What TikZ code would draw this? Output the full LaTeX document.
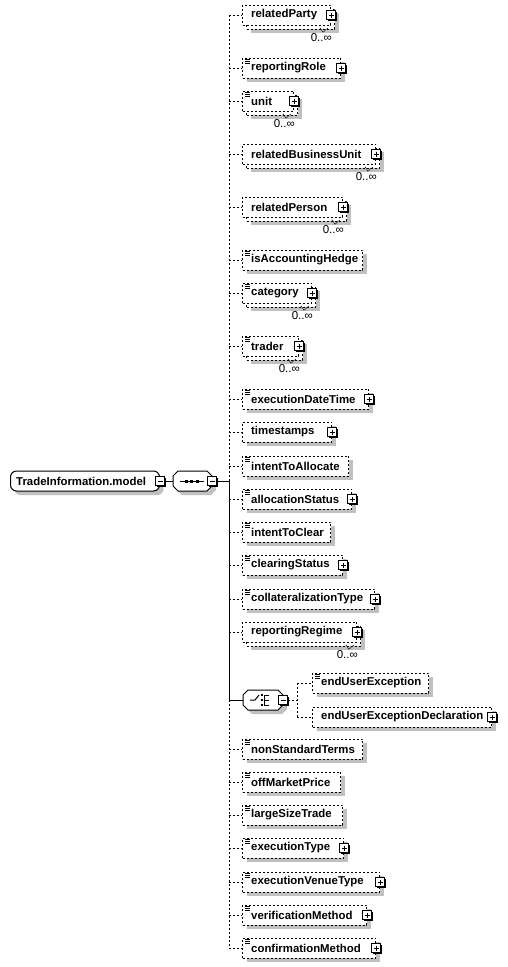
\documentclass[tikz,border=0pt]{standalone}
\usepackage{fontspec}
\setmainfont{Liberation Sans}
\usetikzlibrary{shadows}
\definecolor{shgray}{RGB}{192,192,192}
\tikzset{
  lnk/.style={line width=1pt, dash pattern=on 2pt off 2pt},
  lnks/.style={line width=1pt},
  elboxns/.style={draw, line width=1pt, dash pattern=on 2pt off 2pt, fill=white,
    minimum height=20pt, inner sep=0pt, anchor=west},
  elbox/.style={elboxns, drop shadow={shadow xshift=4pt, shadow yshift=-4pt, fill=shgray, opacity=1}},
  eltext/.style={font=\fontsize{11.4}{13}\selectfont\bfseries, inner sep=0pt, anchor=west},
  multlbl/.style={font=\fontsize{11.5}{13}\selectfont, inner sep=0pt, anchor=east},
  pmbox/.style={draw, line width=1pt, fill=white, minimum size=9pt, inner sep=0pt,
    drop shadow={shadow xshift=1pt, shadow yshift=-1pt, fill=black, opacity=1}},
  minusbox/.style={pmbox, path picture={
    \draw[line width=1pt] ([xshift=2pt]path picture bounding box.west) -- ([xshift=-2pt]path picture bounding box.east);}},
  plusbox/.style={pmbox, path picture={
    \draw[line width=1pt] ([xshift=2pt]path picture bounding box.west) -- ([xshift=-2pt]path picture bounding box.east);
    \draw[line width=1pt] ([yshift=-2pt]path picture bounding box.north) -- ([yshift=2pt]path picture bounding box.south);}},
}
% single element box: name, left, y, right, text
\newcommand\elemS[5]{%
  \node[elbox, minimum width={#4-#2}] (#1) at (#2,#3) {};
  \node[eltext] (#1-t) at (#2+9,#3) {#5};
}
% multiple occurrence element box
\newcommand\elemM[5]{%
  \node[elbox, minimum width={#4-#2}] (#1-b) at (#2+4,#3+4) {};
  \node[elboxns, minimum width={#4-#2}] (#1) at (#2,#3) {};
  \node[eltext] (#1-t) at (#2+9,#3) {#5};
  \node[multlbl] (#1-m) at (#4+2,#3+23) {0..∞};
  \draw[line width=.8pt, dash pattern=on 1pt off 1pt] (#4-10,#3+13) -- (#4-7,#3+17) -- (#4-2,#3+13);
}
\newcommand\elicon[1]{%
  \foreach \k in {1.5,3.5,5.5}{\draw[line width=.8pt] ([xshift=3pt,yshift=-\k pt]#1.north west) -- +(5,0);}}
\newcommand\elplus[1]{\node[plusbox] (#1-p) at (#1.east) {};}
% compositor octagon: name, x1, x2, y
\newcommand\octa[4]{%
  \node[inner sep=0pt, minimum width={#3-#2}, minimum height=20pt, anchor=west] (#1) at (#2,#4) {};
  \fill[shgray] (#2+9,#4-6) -- (#3-1,#4-6) -- (#3+4,#4-1) -- (#3+4,#4+9) -- (#3-1,#4+14) -- (#2+9,#4+14) -- (#2+4,#4+9) -- (#2+4,#4-1) -- cycle;
  \draw[line width=1pt, fill=white] (#2+5,#4-10) -- (#3-5,#4-10) -- (#3,#4-5) -- (#3,#4+5) -- (#3-5,#4+10) -- (#2+5,#4+10) -- (#2,#4+5) -- (#2,#4-5) -- cycle;
  \node[minusbox] (#1-m) at (#1.east) {};
}
\begin{document}
\begin{tikzpicture}[x=1pt,y=-1pt]
\useasboundingbox (0,0) rectangle (508,967);
\coordinate (vx) at (229,0);
\coordinate (cx) at (297,0);

% ---- children of the sequence ----
\elemM{relatedParty}{242}{15}{330}{relatedParty}\elplus{relatedParty}
\elemS{reportingRole}{242}{68}{340}{reportingRole}\elicon{reportingRole}\elplus{reportingRole}
\elemM{unit}{242}{101}{293}{unit}\elicon{unit}\elplus{unit}
\elemM{relatedBusinessUnit}{242}{154}{375}{relatedBusinessUnit}\elplus{relatedBusinessUnit}
\elemM{relatedPerson}{242}{207}{342}{relatedPerson}\elplus{relatedPerson}
\elemS{isAccountingHedge}{242}{260}{362}{isAccountingHedge}\elicon{isAccountingHedge}
\elemM{category}{242}{293}{311}{category}\elicon{category}\elplus{category}
\elemM{trader}{242}{346}{298}{trader}\elicon{trader}\elplus{trader}
\elemS{executionDateTime}{242}{399}{368}{executionDateTime}\elicon{executionDateTime}\elplus{executionDateTime}
\elemS{timestamps}{242}{432}{331}{timestamps}\elplus{timestamps}
\elemS{intentToAllocate}{242}{466}{348}{intentToAllocate}\elicon{intentToAllocate}
\elemS{allocationStatus}{242}{499}{351}{allocationStatus}\elicon{allocationStatus}\elplus{allocationStatus}
\elemS{intentToClear}{242}{532}{330}{intentToClear}\elicon{intentToClear}
\elemS{clearingStatus}{242}{565}{342}{clearingStatus}\elicon{clearingStatus}\elplus{clearingStatus}
\elemS{collateralizationType}{242}{599}{374}{collateralizationType}\elicon{collateralizationType}\elplus{collateralizationType}
\elemM{reportingRegime}{242}{632}{356}{reportingRegime}\elplus{reportingRegime}
\elemS{nonStandardTerms}{242}{749}{362}{nonStandardTerms}\elicon{nonStandardTerms}
\elemS{offMarketPrice}{242}{782}{340}{offMarketPrice}\elicon{offMarketPrice}
\elemS{largeSizeTrade}{242}{815}{342}{largeSizeTrade}\elicon{largeSizeTrade}
\elemS{executionType}{242}{848}{343}{executionType}\elicon{executionType}\elplus{executionType}
\elemS{executionVenueType}{242}{882}{379}{executionVenueType}\elicon{executionVenueType}\elplus{executionVenueType}
\elemS{verificationMethod}{242}{915}{366}{verificationMethod}\elicon{verificationMethod}\elplus{verificationMethod}
\elemS{confirmationMethod}{242}{948}{375}{confirmationMethod}\elicon{confirmationMethod}\elplus{confirmationMethod}

% ---- choice ----
\elemS{endUserException}{312}{683}{428}{endUserException}\elicon{endUserException}
\elemS{endUserExceptionDeclaration}{312}{717}{491}{endUserExceptionDeclaration}\elplus{endUserExceptionDeclaration}
\octa{choice}{243}{283}{700}
% choice icon
\draw[line width=1pt] (250,700) -- (255,700) -- (259,695);
\foreach \yy in {695,700,705}{
  \fill (261,\yy-1) rectangle (263,\yy+1);
  \draw[line width=1pt] (264,\yy) -- (269,\yy);
}
\draw[line width=1pt] (264.5,695) -- (264.5,705);

% ---- model and sequence ----
\node[draw, line width=1pt, fill=white, rounded corners=6pt, minimum width=149pt, minimum height=20pt,
  inner sep=0pt, anchor=west, drop shadow={shadow xshift=4pt, shadow yshift=-4pt, fill=shgray, opacity=1}] (model) at (10,481) {};
\node[eltext] (model-t) at (16,481) {TradeInformation.model};
\node[minusbox] (model-m) at (model.east) {};
\octa{seq}{173}{212}{481}
\draw[line width=1pt] (180,481) -- (204,481);
\foreach \xx in {186,191.5,197}{\fill (\xx-1.5,479.5) rectangle (\xx+1.5,482.5);}

% ---- connectors ----
\draw[lnks] (model-m.east) -- (seq.west);
\draw[lnks] (seq-m.east) -- (vx |- seq-m.east);
\draw[lnk] (vx |- relatedParty.west) -- (vx |- seq-m.east);
\draw[lnks] (vx |- seq-m.east) -- (vx |- choice.west);
\draw[lnk] (vx |- choice.west) -- (vx |- confirmationMethod.west);
\draw[lnks] (vx |- choice.west) -- (choice.west);
\foreach \n in {relatedParty,reportingRole,unit,relatedBusinessUnit,relatedPerson,isAccountingHedge,
  category,trader,executionDateTime,timestamps,intentToAllocate,allocationStatus,intentToClear,
  clearingStatus,collateralizationType,reportingRegime,nonStandardTerms,offMarketPrice,largeSizeTrade,
  executionType,executionVenueType,verificationMethod,confirmationMethod}{
  \draw[lnk] (vx |- \n.west) -- (\n.west);
}
\draw[lnk] (choice-m.east) -- (cx |- choice-m.east);
\draw[lnk] (cx |- endUserException.west) -- (cx |- endUserExceptionDeclaration.west);
\draw[lnk] (cx |- endUserException.west) -- (endUserException.west);
\draw[lnk] (cx |- endUserExceptionDeclaration.west) -- (endUserExceptionDeclaration.west);
\end{tikzpicture}
\end{document}
